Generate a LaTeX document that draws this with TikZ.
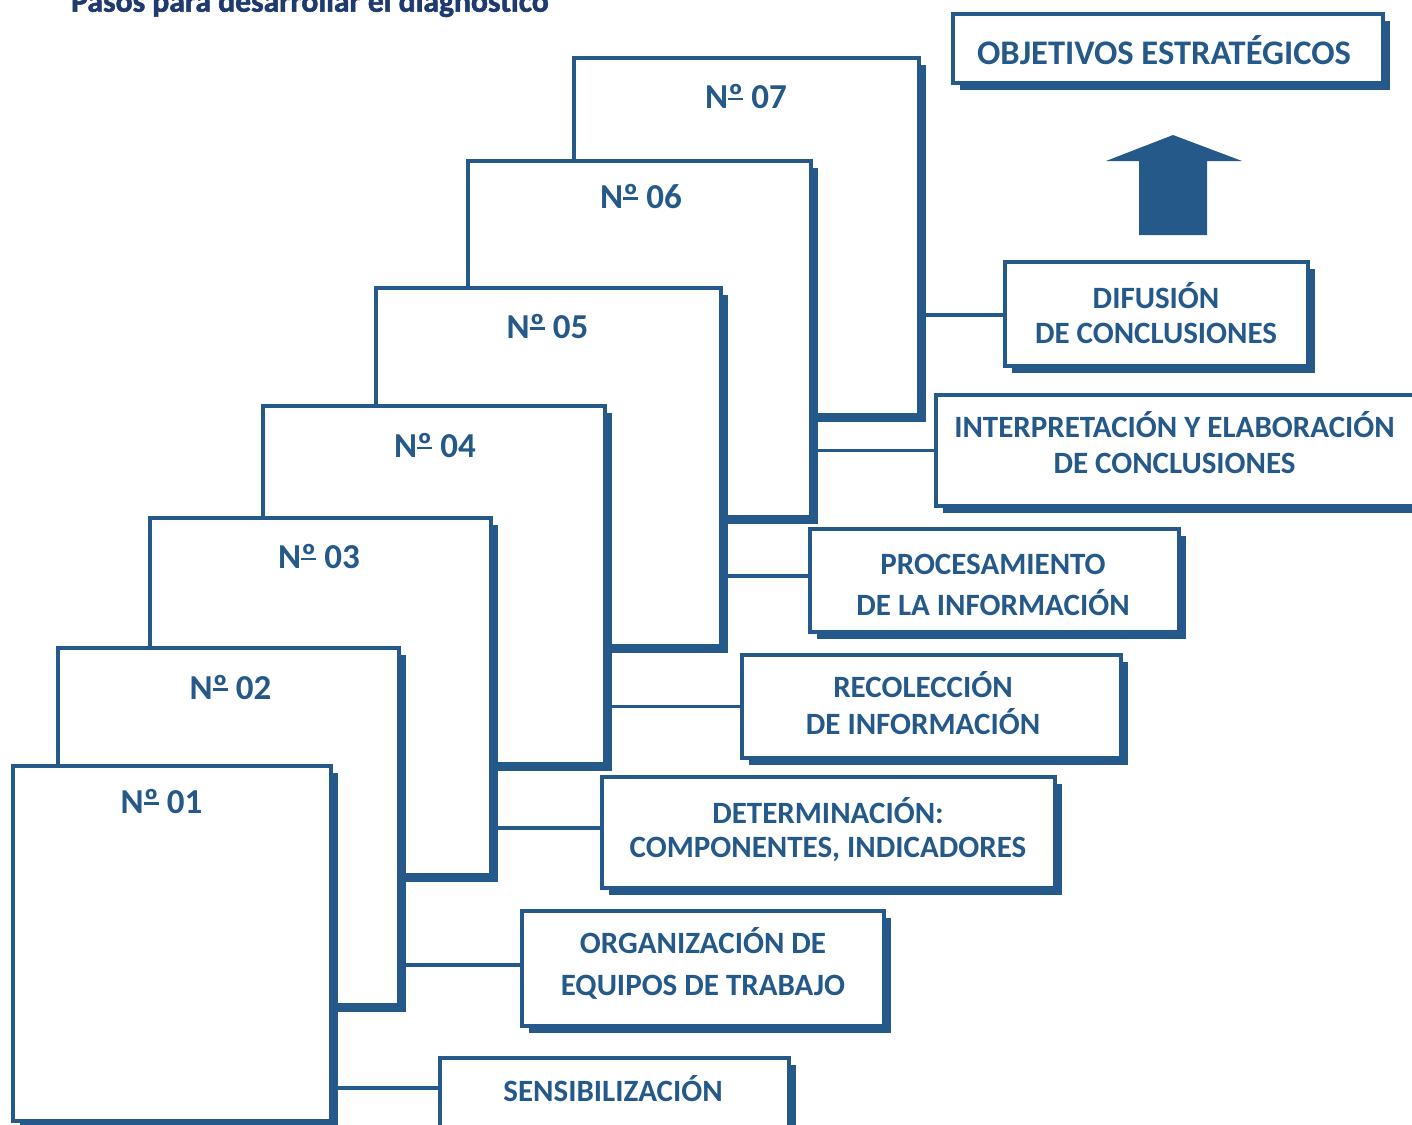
\documentclass[tikz,border=0pt]{standalone}
\usepackage{fontspec}
\setmainfont{Carlito}
\newfontfamily\ttlfont{Carlito}[BoldFeatures={FakeBold=1.8}]
\usetikzlibrary{shadows}
\definecolor{bl}{RGB}{36,89,138}
\definecolor{navy}{RGB}{30,58,110}
\newcommand\lf[1]{\fontsize{31}{#1}\selectfont\bfseries}
\newcommand\ordu{\setbox0=\hbox{º}\leavevmode\rlap{\copy0}\rule[0.24em]{\wd0}{0.075em}}
\begin{document}
\begin{tikzpicture}[x=1pt,y=-1pt,
  boxsh/.style={draw=bl, line width=3.2pt, fill=white, inner sep=0pt, outer sep=0pt,
    anchor=north west,
    drop shadow={shadow xshift=7pt, shadow yshift=-7pt, fill=bl, opacity=1}},
  conn/.style={draw=bl, line width=3.2pt},
  numtxt/.style={text=bl, font=\fontsize{35}{40}\selectfont\bfseries, inner sep=0pt,
    text height=22.1pt, text depth=0pt},
  lbltxt/.style={text=bl, align=center, inner sep=0pt, text height=19.6pt, text depth=0pt},
  lbltwo/.style 2 args={lbltxt, font={\lf{#1}}, text height=#2pt},
]
\useasboundingbox (0,0) rectangle (1412,1124);
\clip (0,0) rectangle (1412,1124);

% title (cut at top)
\node[anchor=base west, inner sep=0pt, text=navy,
  font=\fontsize{31.6}{34}\selectfont\ttlfont\bfseries] (title) at (71,11.7)
  {Pasos para desarrollar el diagnóstico};

% step boxes, back to front
\node[boxsh, minimum width=345, minimum height=357] (s7) at (574,58) {};
\node[boxsh, minimum width=343, minimum height=356] (s6) at (468,161) {};
\node[boxsh, minimum width=345, minimum height=358] (s5) at (376,288) {};
\node[boxsh, minimum width=342, minimum height=358] (s4) at (263,406) {};
\node[boxsh, minimum width=341, minimum height=357] (s3) at (150,518) {};
\node[boxsh, minimum width=341, minimum height=357] (s2) at (58,648) {};
\node[boxsh, minimum width=318, minimum height=355] (s1) at (13,766) {};

% step numbers
\node[numtxt] (n7) at (746,97.5) {N\ordu\ 07};
\node[numtxt] (n6) at (641,197) {N\ordu\ 06};
\node[numtxt] (n5) at (547.5,327) {N\ordu\ 05};
\node[numtxt] (n4) at (435,446.5) {N\ordu\ 04};
\node[numtxt] (n3) at (319,557.5) {N\ordu\ 03};
\node[numtxt] (n2) at (230.5,688) {N\ordu\ 02};
\node[numtxt] (n1) at (161.5,802) {N\ordu\ 01};

% label boxes
\node[boxsh, minimum width=430, minimum height=69] (obj) at (953,14) {};
\node[boxsh, minimum width=303, minimum height=104] (dif) at (1005,262) {};
\node[boxsh, minimum width=490, minimum height=111] (int) at (936,395) {};
\node[boxsh, minimum width=369, minimum height=103] (pro) at (810,529) {};
\node[boxsh, minimum width=379, minimum height=103] (rec) at (742,655) {};
\node[boxsh, minimum width=453, minimum height=111] (det) at (602,777) {};
\node[boxsh, minimum width=362, minimum height=115] (org) at (522,911) {};
\node[boxsh, minimum width=349, minimum height=69] (sen) at (440,1058) {};

% label texts
\node[lbltxt, font=\fontsize{34.5}{40}\selectfont\bfseries, text height=21.8pt]
  (tobj) at (1164,53.3) {OBJETIVOS ESTRATÉGICOS};
\node[lbltwo={35}{54.6}] (tdif) at (1156,316.5) {DIFUSIÓN\\DE CONCLUSIONES};
\node[lbltwo={36}{55.6}] (tint) at (1174.5,446) {INTERPRETACIÓN Y ELABORACIÓN\\DE CONCLUSIONES};
\node[lbltwo={41}{60.6}] (tpro) at (993,585.5) {PROCESAMIENTO\\DE LA INFORMACIÓN};
\node[lbltwo={37}{56.6}] (trec) at (923,706.5) {RECOLECCIÓN\\DE INFORMACIÓN};
\node[lbltwo={34}{53.6}] (tdet) at (828,831) {DETERMINACIÓN:\\COMPONENTES, INDICADORES};
\node[lbltwo={42}{61.6}] (torg) at (703,965) {ORGANIZACIÓN DE\\EQUIPOS DE TRABAJO};
\node[lbltxt, font={\lf{36}}] (tsen) at (613,1092) {SENSIBILIZACIÓN};

% up arrow
\fill[bl] (1139,235) -- (1139,161) -- (1106,161) -- (1173,135) -- (1242,161)
  -- (1207,161) -- (1207,235) -- cycle;

% connectors
\draw[conn] ([yshift=-1pt]dif.west) -- ([yshift=-1pt]dif.west -| s7.east);
\draw[conn] (int.west) -- (int.west -| s6.east);
\draw[conn] ([yshift=4.5pt]pro.west) -- ([yshift=4.5pt]pro.west -| s5.east);
\draw[conn] (rec.west) -- (rec.west -| s4.east);
\draw[conn] ([yshift=4.5pt]det.west) -- ([yshift=4.5pt]det.west -| s3.east);
\draw[conn] ([yshift=3.5pt]org.west) -- ([yshift=3.5pt]org.west -| s2.east);
\draw[conn] ([yshift=4.5pt]sen.west) -- ([yshift=4.5pt]sen.west -| s1.east);
\end{tikzpicture}
\end{document}
